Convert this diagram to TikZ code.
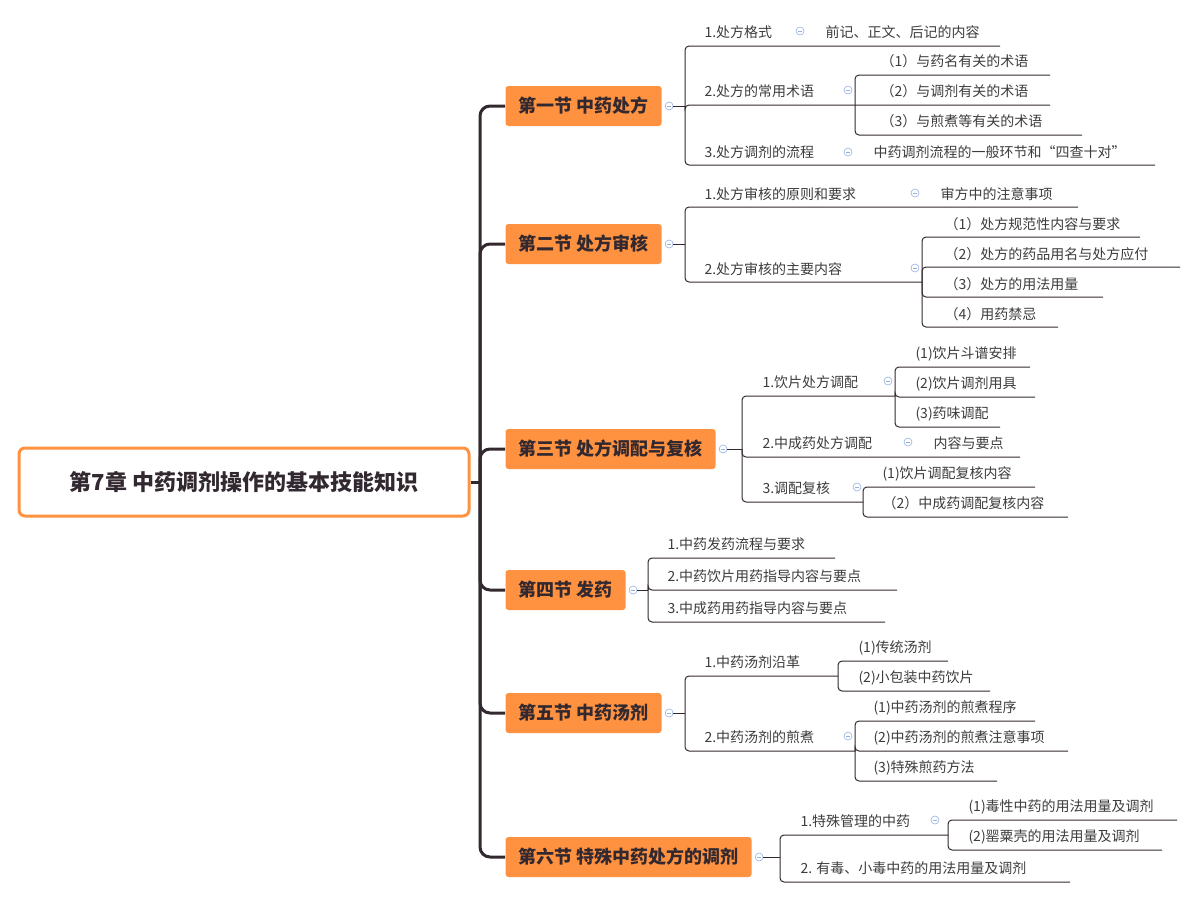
\documentclass[tikz,border=0pt]{standalone}
\usepackage{fontspec}
\setmainfont{Noto Sans CJK SC}
\definecolor{orange1}{RGB}{255, 146, 64}
\definecolor{line1}{RGB}{50, 40, 48}
\definecolor{text1}{RGB}{60, 60, 60}
\definecolor{blue1}{RGB}{150, 175, 225}
\begin{document}
\begin{tikzpicture}[x=1pt, y=-1pt, line width=1pt, line1]
  \tikzset{
    root/.style={draw=orange1, line width=3pt, rounded corners=6pt, fill=white, minimum width=450pt, minimum height=68pt, text=line1, font=\fontsize{22}{26}\selectfont\bfseries},
    sect/.style={fill=orange1, rounded corners=3pt, anchor=west, minimum height=40pt, inner xsep=13pt, text=line1, font=\fontsize{18}{22}\selectfont\bfseries},
    leaf/.style={anchor=base west, inner sep=0pt, text=text1, font=\fontsize{14}{16}\selectfont},
    knob/.style={circle, draw=blue1, line width=.6pt, minimum size=8pt, inner sep=0pt, path picture={\draw[blue1, line width=.6pt] ([xshift=-2pt]path picture bounding box.center) -- ([xshift=2pt]path picture bounding box.center);}},
    twig/.style={rounded corners=4pt},
    trunk/.style={line width=3pt, rounded corners=10pt}
  }
  \useasboundingbox (0,0) rectangle (1195,898);

  % root and sections
  \node[root] (n0) at (244,482) {第7章 中药调剂操作的基本技能知识};
  \coordinate (t0) at (480,482);
  \draw[trunk] (n0.east) -- (t0);
  \node[sect] (s1) at (505,106) {第一节 中药处方};
  \node[sect] (s2) at (505,244) {第二节 处方审核};
  \node[sect] (s3) at (505,449) {第三节 处方调配与复核};
  \node[sect] (s4) at (505,590) {第四节 发药};
  \node[sect] (s5) at (505,713) {第五节 中药汤剂};
  \node[sect] (s6) at (505,857) {第六节 特殊中药处方的调剂};
  \foreach \s in {s1,s2,s3,s4,s5,s6}
    \draw[trunk] (t0) |- (\s.west);

  \foreach \s in {s1,s2,s3,s4,s5,s6}
    \node[knob] (m\s) at ([xshift=7pt]\s.east) {};

  % section 1
  \draw (ms1) -- (685,106);
  \draw[twig] (685,106) |- (1000,46);
  \draw[twig] (685,106) |- (1050,105);
  \draw[twig] (685,106) |- (1155,165);
  \node[leaf] (a1) at (704,37) {1.处方格式};
  \node[knob] (ma1) at (800,31) {};
  \node[leaf] (a1a) at (825,37) {前记、正文、后记的内容};
  \node[leaf] (a2) at (704,96) {2.处方的常用术语};
  \node[knob] (ma2) at (848,90) {};
  \draw[twig] (855,105) |- (1050,75);
  \draw[twig] (855,105) |- (1082,135);
  \node[leaf] (a2a) at (880,66) {（1）与药名有关的术语};
  \node[leaf] (a2b) at (880,96) {（2）与调剂有关的术语};
  \node[leaf] (a2c) at (880,126) {（3）与煎煮等有关的术语};
  \node[leaf] (a3) at (704,157) {3.处方调剂的流程};
  \node[knob] (ma3) at (848,152) {};
  \node[leaf] (a3a) at (873,157) {中药调剂流程的一般环节和“四查十对”};

  % section 2
  \draw (ms2) -- (685,244);
  \draw[twig] (685,244) |- (1078,207);
  \draw[twig] (685,244) |- (922,282);
  \node[leaf] (b1) at (704,199) {1.处方审核的原则和要求};
  \node[knob] (mb1) at (915,193) {};
  \node[leaf] (b1a) at (940,199) {审方中的注意事项};
  \node[leaf] (b2) at (704,274) {2.处方审核的主要内容};
  \node[knob] (mb2) at (915,268) {};
  \foreach \y/\xe in {237/1140, 267/1180, 297/1103, 327/1058}
    \draw[twig] (922,282) |- (\xe,\y);
  \node[leaf] (b2a) at (944,229) {（1）处方规范性内容与要求};
  \node[leaf] (b2b) at (944,259) {（2）处方的药品用名与处方应付};
  \node[leaf] (b2c) at (944,289) {（3）处方的用法用量};
  \node[leaf] (b2d) at (944,319) {（4）用药禁忌};

  % section 3
  \draw (ms3) -- (742,449);
  \draw[twig] (742,449) |- (895,396);
  \draw[twig] (742,449) |- (1020,457);
  \draw[twig] (742,449) |- (863,502);
  \node[leaf] (c1) at (762,387) {1.饮片处方调配};
  \node[knob] (mc1) at (888,381) {};
  \foreach \y/\xe in {367/1030, 397/1035, 427/1000}
    \draw[twig] (895,396) |- (\xe,\y);
  \node[leaf] (c1a) at (915,358) {(1)饮片斗谱安排};
  \node[leaf] (c1b) at (915,388) {(2)饮片调剂用具};
  \node[leaf] (c1c) at (915,418) {(3)药味调配};
  \node[leaf] (c2) at (762,448) {2.中成药处方调配};
  \node[knob] (mc2) at (908,442) {};
  \node[leaf] (c2a) at (933,448) {内容与要点};
  \node[leaf] (c3) at (762,493) {3.调配复核};
  \node[knob] (mc3) at (857,487) {};
  \draw[twig] (863,502) |- (1035,487);
  \draw[twig] (863,502) |- (1068,517);
  \node[leaf] (c3a) at (882,478) {(1)饮片调配复核内容};
  \node[leaf] (c3b) at (882,508) {（2）中成药调配复核内容};

  % section 4
  \draw (ms4) -- (648,590);
  \foreach \y/\xe in {558/835, 590/897, 622/885}
    \draw[twig] (648,590) |- (\xe,\y);
  \node[leaf] (d1) at (667,549) {1.中药发药流程与要求};
  \node[leaf] (d2) at (667,581) {2.中药饮片用药指导内容与要点};
  \node[leaf] (d3) at (667,613) {3.中成药用药指导内容与要点};

  % section 5
  \draw (ms5) -- (685,713);
  \draw[twig] (685,713) |- (838,676);
  \draw[twig] (685,713) |- (855,751);
  \node[leaf] (e1) at (704,667) {1.中药汤剂沿革};
  \draw[twig] (838,676) |- (948,661);
  \draw[twig] (838,676) |- (990,691);
  \node[leaf] (e1a) at (858,652) {(1)传统汤剂};
  \node[leaf] (e1b) at (858,682) {(2)小包装中药饮片};
  \node[leaf] (e2) at (704,742) {2.中药汤剂的煎煮};
  \node[knob] (me2) at (848,736) {};
  \foreach \y/\xe in {721/1035, 751/1068, 781/997}
    \draw[twig] (855,751) |- (\xe,\y);
  \node[leaf] (e2a) at (873,712) {(1)中药汤剂的煎煮程序};
  \node[leaf] (e2b) at (873,742) {(2)中药汤剂的煎煮注意事项};
  \node[leaf] (e2c) at (873,772) {(3)特殊煎药方法};

  % section 6
  \draw (ms6) -- (780,857);
  \draw[twig] (780,857) |- (948,835);
  \draw[twig] (780,857) |- (1070,882);
  \node[leaf] (f1) at (800,826) {1.特殊管理的中药};
  \node[knob] (mf1) at (935,820) {};
  \draw[twig] (948,835) |- (1177,820);
  \draw[twig] (948,835) |- (1162,850);
  \node[leaf] (f1a) at (968,811) {(1)毒性中药的用法用量及调剂};
  \node[leaf] (f1b) at (968,841) {(2)罂粟壳的用法用量及调剂};
  \node[leaf] (f2) at (800,873) {2. 有毒、小毒中药的用法用量及调剂};
\end{tikzpicture}
\end{document}
